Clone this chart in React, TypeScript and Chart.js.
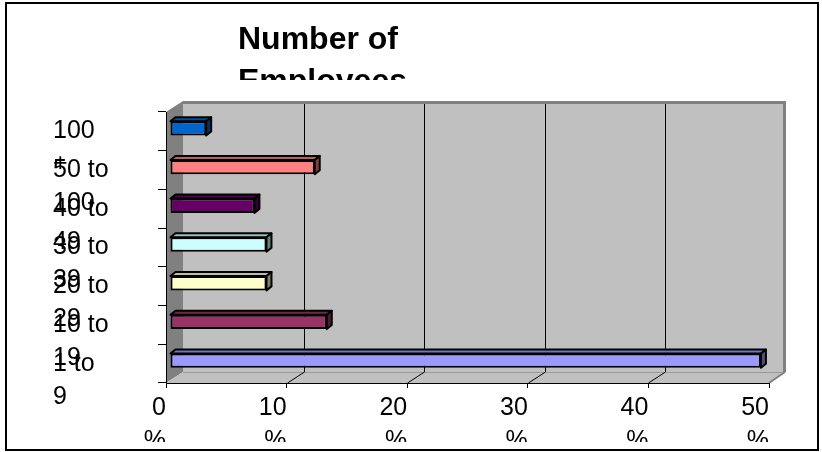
import { useEffect, useRef } from 'react';
import { Chart, registerables } from 'chart.js';

Chart.register(...registerables);

// ---- data ----
const categories = ['1 to 9', '10 to 19', '20 to 29', '30 to 39', '40 to 49', '50 to 100', '100 +'];
const percentages = [49, 13, 8, 8, 7, 12, 3];
const barColors = ['#9999FF', '#993366', '#FFFFCC', '#CCFFFF', '#660066', '#FF8080', '#0066CC'];
const titleLines = ['Number of', 'Employees'];
const axisMin = 0;
const axisMax = 50;
const axisStep = 10;
const tickSuffix = '%';

// ---- style ----
const FONT = "'Liberation Sans', Arial, Helvetica, sans-serif";
const WALL_DEPTH = { x: 17, y: -11 };
const BAR_SHIFT = { x: 4, y: -3 };
const BAR_DEPTH = { x: 5, y: -4 };

function shade(hex: string, f: number) {
  const n = parseInt(hex.slice(1), 16);
  const r = Math.round(((n >> 16) & 255) * f);
  const g = Math.round(((n >> 8) & 255) * f);
  const b = Math.round((n & 255) * f);
  return `rgb(${r},${g},${b})`;
}

function poly(ctx: CanvasRenderingContext2D, pts: number[][], fill?: string, stroke?: string, lw = 1) {
  ctx.beginPath();
  ctx.moveTo(pts[0][0], pts[0][1]);
  for (let i = 1; i < pts.length; i++) ctx.lineTo(pts[i][0], pts[i][1]);
  ctx.closePath();
  if (fill) {
    ctx.fillStyle = fill;
    ctx.fill();
  }
  if (stroke) {
    ctx.strokeStyle = stroke;
    ctx.lineWidth = lw;
    ctx.stroke();
  }
}

const wallsPlugin = {
  id: 'walls3d',
  beforeDraw(chart: any) {
    const ctx: CanvasRenderingContext2D = chart.ctx;
    const { left, right, top, bottom } = chart.chartArea;
    const dx = WALL_DEPTH.x;
    const dy = WALL_DEPTH.y;
    const xs = chart.scales.x;
    ctx.save();
    // back wall
    ctx.fillStyle = '#C0C0C0';
    ctx.fillRect(left + dx, top + dy, right - left, bottom - top);
    // side wall
    poly(ctx, [[left, top], [left + dx, top + dy], [left + dx, bottom + dy], [left, bottom]], '#808080');
    // floor
    poly(ctx, [[left, bottom], [left + dx, bottom + dy], [right + dx, bottom + dy], [right, bottom]], '#C0C0C0');
    // back wall border (top/right)
    ctx.strokeStyle = '#808080';
    ctx.lineWidth = 3;
    ctx.beginPath();
    ctx.moveTo(left + dx, top + dy + 1.5);
    ctx.lineTo(right + dx - 1.5, top + dy + 1.5);
    ctx.lineTo(right + dx - 1.5, bottom + dy);
    ctx.stroke();
    // floor right edge
    ctx.lineWidth = 2;
    ctx.beginPath();
    ctx.moveTo(right + dx - 1, bottom + dy);
    ctx.lineTo(right, bottom);
    ctx.stroke();
    // back edge of the floor
    ctx.strokeStyle = '#9A9A9A';
    ctx.lineWidth = 1;
    ctx.beginPath();
    ctx.moveTo(left + dx, bottom + dy + 0.5);
    ctx.lineTo(right + dx - 3, bottom + dy + 0.5);
    ctx.stroke();
    // gridlines on the back wall and floor
    ctx.strokeStyle = '#000';
    ctx.lineWidth = 1;
    xs.ticks.forEach((t: any) => {
      if (t.value <= axisMin || t.value >= axisMax) return;
      const px = Math.round(xs.getPixelForValue(t.value)) + 0.5;
      ctx.beginPath();
      ctx.moveTo(px + dx, top + dy + 3);
      ctx.lineTo(px + dx, bottom + dy);
      ctx.lineTo(px, bottom);
      ctx.stroke();
    });
    ctx.restore();
  },
  beforeDatasetsDraw(chart: any) {
    chart.ctx.save();
    chart.ctx.translate(BAR_SHIFT.x, BAR_SHIFT.y);
  },
  afterDatasetsDraw(chart: any) {
    const ctx: CanvasRenderingContext2D = chart.ctx;
    const meta = chart.getDatasetMeta(0);
    ctx.lineJoin = 'round';
    meta.data.forEach((bar: any, i: number) => {
      const p = bar.getProps(['x', 'y', 'base', 'height'], true);
      const l = Math.min(p.base, p.x);
      const r = Math.max(p.base, p.x);
      const t = p.y - p.height / 2;
      const b = p.y + p.height / 2;
      const c = barColors[i];
      poly(ctx, [[l, t], [l + BAR_DEPTH.x, t + BAR_DEPTH.y], [r + BAR_DEPTH.x, t + BAR_DEPTH.y], [r, t]], shade(c, 0.75), '#000', 2);
      poly(ctx, [[r, t], [r + BAR_DEPTH.x, t + BAR_DEPTH.y], [r + BAR_DEPTH.x, b + BAR_DEPTH.y], [r, b]], shade(c, 0.5), '#000', 2);
    });
    ctx.restore();
  },
};

const titlePlugin = {
  id: 'clippedTitle',
  afterDraw(chart: any) {
    const ctx: CanvasRenderingContext2D = chart.ctx;
    ctx.save();
    ctx.beginPath();
    ctx.rect(0, 0, chart.width, 76);
    ctx.clip();
    ctx.fillStyle = '#000';
    ctx.font = `bold 32px ${FONT}`;
    ctx.textAlign = 'left';
    ctx.textBaseline = 'alphabetic';
    titleLines.forEach((line, i) => ctx.fillText(line, 231, 45 + i * 42));
    ctx.restore();
  },
};

export default function App() {
  const ref = useRef<HTMLCanvasElement>(null);
  useEffect(() => {
    const tickFont = { family: FONT, size: 25, lineHeight: 1.32 };
    const chart = new Chart(ref.current as HTMLCanvasElement, {
      type: 'bar',
      data: {
        labels: categories,
        datasets: [
          {
            data: percentages,
            backgroundColor: barColors,
            borderColor: '#000',
            borderWidth: 2,
            borderSkipped: false,
            barPercentage: 0.37,
            categoryPercentage: 1,
          },
        ],
      },
      options: {
        indexAxis: 'y',
        responsive: false,
        animation: false,
        events: [],
        layout: { padding: { left: 46, right: 48, top: 108, bottom: 0 } },
        plugins: { legend: { display: false }, tooltip: { enabled: false }, title: { display: false } },
        scales: {
          x: {
            type: 'linear',
            min: axisMin,
            max: axisMax,
            ticks: {
              stepSize: axisStep,
              callback: (v: any) => [String(v), tickSuffix],
              align: 'end',
              padding: 4,
              color: '#000',
              font: tickFont,
              maxRotation: 0,
              minRotation: 0,
              autoSkip: false,
            },
            grid: { drawOnChartArea: false, drawTicks: true, tickLength: 5, color: '#000', lineWidth: 1 },
            border: { display: true, color: '#000', width: 1 },
            afterFit: (s: any) => {
              s.height = 59;
            },
          },
          y: {
            type: 'category',
            reverse: true,
            offset: true,
            ticks: {
              crossAlign: 'far',
              autoSkip: false,
              color: '#000',
              font: tickFont,
              callback: function (this: any, value: any) {
                const s: string = this.getLabelForValue(value);
                const k = s.lastIndexOf(' ');
                return ['', s.slice(0, k), s.slice(k + 1)];
              },
            },
            grid: { drawOnChartArea: false, drawTicks: true, tickLength: 8, color: '#000', offset: true },
            border: { display: true, color: '#000', width: 1 },
            afterFit: (s: any) => {
              s.width = 113;
            },
          },
        },
      } as any,
      plugins: [wallsPlugin, titlePlugin],
    });
    return () => chart.destroy();
  }, []);

  return (
    <div style={{ position: 'fixed', left: 0, top: 0, width: 822, height: 452, background: '#fff' }}>
      <div
        style={{
          position: 'absolute',
          left: 5,
          top: 2,
          width: 814,
          height: 449,
          border: '2px solid #000',
          boxSizing: 'border-box',
        }}
      />
      <canvas
        ref={ref}
        width={810}
        height={438}
        style={{ position: 'absolute', left: 7, top: 4, width: 810, height: 438 }}
      />
    </div>
  );
}
